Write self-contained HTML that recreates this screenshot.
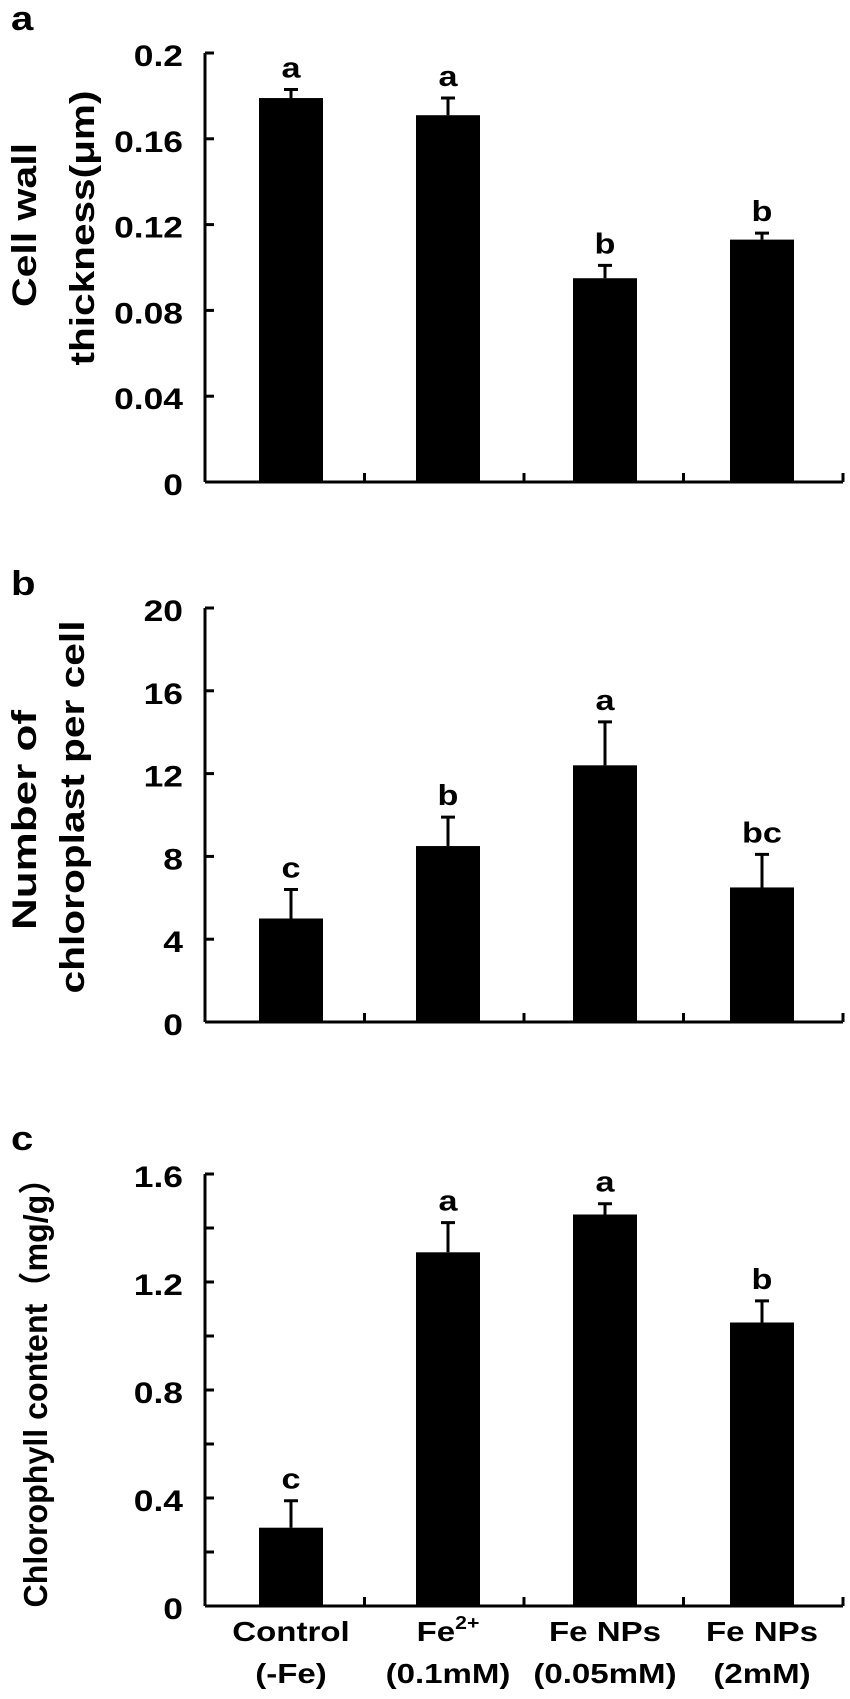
<!DOCTYPE html>
<html><head><meta charset="utf-8">
<style>
html,body{margin:0;padding:0;background:#fff;}
svg{display:block;}
text{font-family:"Liberation Sans",Arial,"Noto Sans CJK SC",sans-serif;fill:#000;}
</style></head>
<body>
<svg id="fig" width="850" height="1699" viewBox="0 0 850 1699" xmlns="http://www.w3.org/2000/svg"></svg>
<script>
const categories = ["Control (-Fe)", "Fe2+ (0.1mM)", "Fe NPs (0.05mM)", "Fe NPs (2mM)"];
const wallValues = [0.179, 0.171, 0.095, 0.113];
const wallErrors = [0.004, 0.008, 0.006, 0.003];
const wallLetters = ["a", "a", "b", "b"];
const wallTicks = ["0", "0.04", "0.08", "0.12", "0.16", "0.2"];
const chloroValues = [5.0, 8.5, 12.4, 6.5];
const chloroErrors = [1.4, 1.4, 2.1, 1.6];
const chloroLetters = ["c", "b", "a", "bc"];
const chloroTicks = ["0", "4", "8", "12", "16", "20"];
const chlValues = [0.29, 1.31, 1.45, 1.05];
const chlErrors = [0.10, 0.11, 0.04, 0.08];
const chlLetters = ["c", "a", "a", "b"];
const chlTicks = ["0", "0.4", "0.8", "1.2", "1.6"];

const NS = "http://www.w3.org/2000/svg";
const svg = document.getElementById("fig");
const STRETCH = 1.18;
function mk(tag, attrs, parent, txt){
  const e = document.createElementNS(NS, tag);
  for (const k in attrs) e.setAttribute(k, attrs[k]);
  if (txt !== undefined) e.textContent = txt;
  (parent || svg).appendChild(e);
  return e;
}
function stretch(t, len){
  const L = len || t.getComputedTextLength() * STRETCH;
  t.setAttribute("textLength", L);
  t.setAttribute("lengthAdjust", "spacingAndGlyphs");
}
const X0 = 205, X1 = 843, catW = (X1 - X0) / 4, barW = 64;
function xCenter(i){ return 291 + i * 157; }

function panel(opt){
  const g = mk("g", {});
  
  
  const yS = v => opt.base - (v / opt.max) * (opt.base - opt.top);
  const pl = mk("text", {x: 11, y: opt.letterY, "font-size": 34, "font-weight": "bold"}, g, opt.letter);
  
  
  stretch(pl);
  opt.values.forEach((v, i) => {
    const cx = xCenter(i);
    const r = mk("rect", {x: cx - barW/2, y: yS(v), width: barW, height: opt.base - yS(v), fill: "#000"}, g);
    
    
    const ye = yS(v + opt.errors[i]);
    const e = mk("path", {d: `M${cx} ${yS(v)}V${ye}M${cx-7} ${ye}H${cx+7}`, stroke: "#000", "stroke-width": 3, fill: "none"}, g);
    
    
    const t = mk("text", {x: cx, y: ye - 12, "font-size": 29, "font-weight": "bold", "text-anchor": "middle"}, g, opt.letters[i]);
    
    
    stretch(t);
  });
  const ya = mk("path", {d: `M${X0} ${opt.top}V${opt.base}`, stroke: "#000", "stroke-width": 3, fill: "none"}, g);
  
  
  for (let k = 0; k <= opt.minorN; k++){
    const y = opt.base - k * (opt.base - opt.top) / opt.minorN;
    mk("path", {d: `M${X0} ${y}H${X0+9}`, stroke: "#000", "stroke-width": 3}, g);
  }
  opt.ticks.forEach((lab, k) => {
    const y = opt.base - k * (opt.base - opt.top) / (opt.ticks.length - 1);
    const t = mk("text", {x: 183, y: y + 13, "font-size": 30, "font-weight": "bold", "text-anchor": "end"}, g, lab);
    
    
    stretch(t);
  });
  const xa = mk("path", {d: `M${X0} ${opt.base}H${X1}`, stroke: "#000", "stroke-width": 3, fill: "none"}, g);
  
  
  for (let k = 1; k <= 4; k++){
    const x = X0 + k * catW;
    mk("path", {d: `M${x} ${opt.base}V${opt.base-9}`, stroke: "#000", "stroke-width": 3}, g);
  }
  opt.titles.forEach(tt => {
    const t = mk("text", {x: 0, y: 0, "font-size": opt.titleSize, "font-weight": "bold", "text-anchor": "middle",
      transform: `translate(${tt.x},${tt.y}) rotate(-90)`}, g, tt.text);
    
    
    stretch(t, tt.len);
  });
}

panel({name: "panel-a-cell-wall", letter: "a", letterY: 30, top: 53, base: 482, max: 0.2, minorN: 5,
  values: wallValues, errors: wallErrors, letters: wallLetters, ticks: wallTicks, titleSize: 34,
  titles: [{text: "Cell wall", x: 36, y: 225, len: 164}, {text: "thickness(μm)", x: 94, y: 228, len: 275}]});
panel({name: "panel-b-chloroplast", letter: "b", letterY: 595, top: 608, base: 1022, max: 20, minorN: 5,
  values: chloroValues, errors: chloroErrors, letters: chloroLetters, ticks: chloroTicks, titleSize: 34,
  titles: [{text: "Number of", x: 36, y: 820, len: 220}, {text: "chloroplast per cell", x: 84, y: 807, len: 373}]});
panel({name: "panel-c-chlorophyll", letter: "c", letterY: 1150, top: 1174, base: 1606, max: 1.6, minorN: 8,
  values: chlValues, errors: chlErrors, letters: chlLetters, ticks: chlTicks, titleSize: 33,
  titles: [{text: "Chlorophyll content（mg/g）", x: 47, y: 1385, len: 445}]});

const line1 = ["Control", "Fe", "Fe NPs", "Fe NPs"];
const line2 = ["(-Fe)", "(0.1mM)", "(0.05mM)", "(2mM)"];
line1.forEach((l, i) => {
  const cx = xCenter(i);
  const t = mk("text", {x: cx, y: 1641, "font-size": 28, "font-weight": "bold", "text-anchor": "middle"}, svg);
  
  
  t.textContent = l;
  if (i === 1){
    mk("tspan", {"font-size": 18, dy: -12}, t, "2+");
  }
  stretch(t);
  const t2 = mk("text", {x: cx, y: 1683, "font-size": 28, "font-weight": "bold", "text-anchor": "middle"}, svg, line2[i]);
  
  
  stretch(t2);
});
</script>
</body></html>
